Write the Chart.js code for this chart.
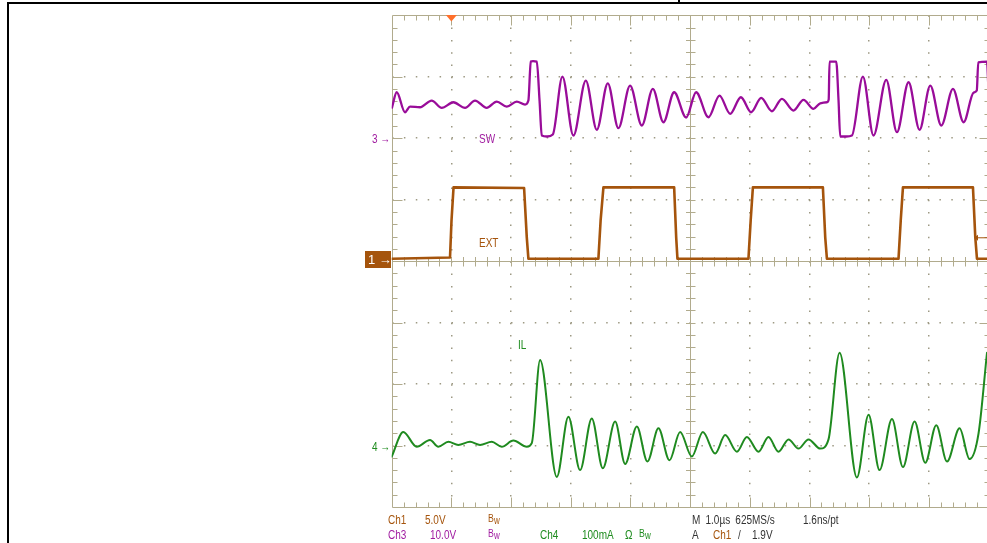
<!DOCTYPE html>
<html>
<head>
<meta charset="utf-8">
<title>SW / EXT / IL scope capture</title>
<script src="https://cdn.jsdelivr.net/npm/chart.js@4.4.1/dist/chart.umd.min.js"></script>
<style>
  html, body { margin: 0; padding: 0; background: #fff; overflow: hidden; }
  body { width: 987px; height: 543px; position: relative; font-family: "Liberation Sans", Arial, sans-serif; }
  .frame-top { position: absolute; left: 7px; top: 2px; width: 990px; height: 2px; background: #000; }
  .frame-left { position: absolute; left: 7px; top: 2px; width: 2px; height: 560px; background: #000; }
  .frame-cell { position: absolute; left: 678px; top: 0; width: 2px; height: 3px; background: #000; }
  #wrap { position: absolute; left: 0; top: 0; width: 1000px; height: 543px; }
  .lbl { position: absolute; font-size: 12.5px; line-height: 14px; white-space: nowrap; transform: scaleX(0.8); transform-origin: 0 50%; }
  .bw { font-size: 11px; }
  .bw sub { font-size: 10px; vertical-align: -2px; }
  .c1 { color: #a5540c; }
  .c3 { color: #a01ca0; }
  .c4 { color: #1f8c1f; }
  .cm { color: #333; }
  .marker1 { position: absolute; left: 365px; top: 251px; width: 26px; height: 17px; background: #a5540c; overflow: hidden; }
  .marker1 span { position: absolute; left: 3px; top: 1px; color: #fff; font-size: 13px; line-height: 15px; white-space: nowrap; }
</style>
</head>
<body>
<div class="frame-top"></div>
<div class="frame-left"></div>
<div class="frame-cell"></div>
<div id="wrap"><canvas id="scope" width="1000" height="543"></canvas></div>

<!-- channel ground markers -->
<div class="lbl c3" style="left:372px;top:132px">3 &#8594;</div>
<div class="marker1"><span>1 &#8594;</span></div>
<div class="lbl c4" style="left:372px;top:440px">4 &#8594;</div>

<!-- trace labels -->
<div class="lbl c3" style="left:479px;top:132px">SW</div>
<div class="lbl c1" style="left:479px;top:236px">EXT</div>
<div class="lbl c4" style="left:518px;top:338px">IL</div>

<!-- status bar -->
<div class="lbl c1" style="left:388px;top:513px">Ch1</div>
<div class="lbl c1" style="left:425px;top:513px">5.0V</div>
<div class="lbl c1 bw" style="left:488px;top:511px">B<sub>w</sub></div>
<div class="lbl cm" style="left:692px;top:513px;word-spacing:3px">M 1.0µs 625MS/s</div>
<div class="lbl cm" style="left:803px;top:513px">1.6ns/pt</div>

<div class="lbl c3" style="left:388px;top:528px">Ch3</div>
<div class="lbl c3" style="left:430px;top:528px">10.0V</div>
<div class="lbl c3 bw" style="left:488px;top:526px">B<sub>w</sub></div>
<div class="lbl c4" style="left:540px;top:528px">Ch4</div>
<div class="lbl c4" style="left:582px;top:528px">100mA</div>
<div class="lbl c4" style="left:625px;top:528px">Ω</div>
<div class="lbl c4 bw" style="left:639px;top:526px">B<sub>w</sub></div>
<div class="lbl cm" style="left:692px;top:528px">A</div>
<div class="lbl c1" style="left:713px;top:528px">Ch1</div>
<div class="lbl cm" style="left:738px;top:528px">/</div>
<div class="lbl cm" style="left:752px;top:528px">1.9V</div>

<script>
// ── SCOPE SETTINGS ──
const TIME_PER_DIV = 1.0;         // µs
const SW_PER_DIV = 10, SW_OFFSET = 2;     // Ch3, volts/div, ground in divisions
const EXT_PER_DIV = 5, EXT_OFFSET = 0;    // Ch1
const IL_PER_DIV = 100, IL_OFFSET = -3;   // Ch4, mA/div
const TRIG_TIME = 1.0;            // µs
const TRIG_LEVEL = 1.9;           // V on Ch1

// ── CH3: SW (volts) ──
const swTime = [0.005, 0.084, 0.223, 0.307, 0.474, 0.670, 0.838, 1.033, 1.229, 1.396, 1.592, 1.760, 1.928, 2.095, 2.234, 2.290,
  2.330, 2.368, 2.430, 2.477, 2.514, 2.603, 2.699, 2.860, 3.044, 3.252, 3.436, 3.620, 3.798, 3.994, 4.190, 4.375, 4.552, 4.732,
  4.933, 5.100, 5.307, 5.491, 5.670, 5.850, 6.022, 6.190, 6.369, 6.537, 6.731, 6.899, 7.066, 7.179, 7.291, 7.321,
  7.335, 7.447, 7.486, 7.514, 7.615, 7.710, 7.894, 8.072, 8.285, 8.464, 8.659, 8.843, 9.023, 9.207, 9.403, 9.581,
  9.749, 9.802, 9.827, 9.973, 9.995];
const swVolts = [4.99, 7.48, 4.23, 5.15, 5.04, 6.13, 4.94, 5.85, 4.94, 6.13, 4.94, 5.97, 5.15, 5.97, 5.48, 6.13,
  12.47, 12.55, 12.47, 6.13, 0.44, 0.28, 0.60, 10.03, 0.44, 9.38, 1.37, 8.94, 1.63, 8.57, 2.07, 8.03, 2.60, 7.48,
  3.37, 7.48, 3.41, 6.94, 3.97, 6.67, 4.23, 6.57, 4.39, 6.41, 4.50, 6.24, 4.78, 5.69, 5.85, 6.29,
  12.47, 12.47, 6.13, 0.28, 0.28, 0.44, 10.03, 0.44, 9.50, 0.98, 9.11, 1.37, 8.57, 2.07, 8.03, 2.60,
  7.43, 7.76, 12.36, 12.47, 8.57];

// ── CH1: EXT (volts) ──
const extTime = [0.005, 0.977, 1.002, 1.036, 2.218, 2.263, 2.290, 3.463, 3.500, 3.547, 4.732, 4.766, 4.787,
  5.977, 6.014, 6.051, 7.224, 7.263, 7.291, 8.491, 8.528, 8.565, 9.738, 9.777, 9.805, 9.995];
const extVolts = [0.20, 0.30, 3.31, 6.00, 5.95, 1.93, 0.20, 0.20, 3.31, 6.00, 6.00, 1.93, 0.20,
  0.20, 3.31, 6.00, 6.00, 1.93, 0.20, 0.20, 3.31, 6.00, 6.00, 1.93, 0.20, 0.20];

// ── CH4: IL (mA) ──
const ilTime = [0.000, 0.194, 0.419, 0.642, 0.781, 0.949, 1.116, 1.312, 1.480, 1.676, 1.844, 2.038, 2.263, 2.347,
  2.486, 2.766, 2.960, 3.156, 3.352, 3.537, 3.743, 3.911, 4.107, 4.284, 4.469, 4.653, 4.832, 5.028,
  5.213, 5.419, 5.587, 5.783, 5.950, 6.145, 6.312, 6.480, 6.648, 6.815, 6.983, 7.179, 7.318,
  7.503, 7.794, 7.989, 8.173, 8.381, 8.565, 8.760, 8.939, 9.123, 9.303, 9.514, 9.681, 9.832, 9.973];
const ilMilliamps = [-18, 22, -2, 9, -2, 6, 1, 6, 1, 6, -2, 8, -2, 4,
  139, -51, 47, -40, 44, -37, 39, -30, 31, -26, 28, -24, 22, -18,
  22, -13, 17, -10, 14, -10, 14, -10, 10, -5, 10, -5, 10,
  151, -52, 50, -40, 43, -35, 39, -28, 33, -26, 28, -22, 20, 151];

// ── COLOURS ──
const GRID_LINE = '#b1ab8d';
const GRID_DOT = '#9d9983';
const TRIG_COLOR = '#ff6f2a';

function toDivs(times, values, perDiv, offset) {
  return times.map((t, i) => ({ x: t / TIME_PER_DIV, y: values[i] / perDiv + offset }));
}

// graticule: outline, minor ticks, centre cross, trigger markers
const graticule = {
  id: 'graticule',
  beforeDatasetsDraw(chart) {
    const { ctx, chartArea: a, scales: { x, y } } = chart;
    const px = v => Math.round(x.getPixelForValue(v)) + 0.5;
    const py = v => Math.round(y.getPixelForValue(v)) + 0.5;
    const L = px(0), R = px(10), T = py(4), B = py(-4), cx = px(5), cy = py(0);
    ctx.save();
    ctx.strokeStyle = GRID_LINE;
    ctx.lineWidth = 1;
    ctx.beginPath();
    ctx.rect(L, T, R - L, B - T);
    ctx.moveTo(cx, T); ctx.lineTo(cx, B);
    ctx.moveTo(L, cy); ctx.lineTo(R, cy);
    for (let k = 1; k < 50; k++) {
      const v = k / 5, p = px(v), len = k % 5 === 0 ? 10 : 5;
      ctx.moveTo(p, T); ctx.lineTo(p, T + len);
      ctx.moveTo(p, B); ctx.lineTo(p, B - len);
      ctx.moveTo(p, cy - 4.5); ctx.lineTo(p, cy + 5);
    }
    for (let k = 1; k < 40; k++) {
      const v = -4 + k / 5, p = py(v), len = k % 5 === 0 ? 10 : 5;
      ctx.moveTo(L, p); ctx.lineTo(L + len, p);
      ctx.moveTo(R, p); ctx.lineTo(R - len, p);
      ctx.moveTo(cx - 4.5, p); ctx.lineTo(cx + 5, p);
    }
    ctx.stroke();

    // trigger position marker
    const tx = x.getPixelForValue(TRIG_TIME);
    ctx.fillStyle = TRIG_COLOR;
    ctx.beginPath();
    ctx.moveTo(tx - 5.5, T - 0.5); ctx.lineTo(tx + 5.5, T - 0.5); ctx.lineTo(tx, T + 6);
    ctx.closePath(); ctx.fill();

    // trigger level marker (Ch1), right edge
    const ty = y.getPixelForValue(TRIG_LEVEL / EXT_PER_DIV + EXT_OFFSET);
    ctx.fillStyle = '#a5540c';
    ctx.strokeStyle = '#a5540c';
    ctx.beginPath();
    ctx.moveTo(974, ty); ctx.lineTo(978, ty - 3); ctx.lineTo(978, ty + 3); ctx.closePath(); ctx.fill();
    ctx.beginPath(); ctx.moveTo(978, ty); ctx.lineTo(R, ty); ctx.stroke();
    ctx.restore();
  }
};

const hideEdge = (edgeVals) => (c) => (c.tick && edgeVals.includes(c.tick.value)) ? 'rgba(0,0,0,0)' : GRID_DOT;

new Chart(document.getElementById('scope'), {
  type: 'line',
  data: {
    datasets: [
      { label: 'EXT', data: toDivs(extTime, extVolts, EXT_PER_DIV, EXT_OFFSET), borderColor: '#a5540c', borderWidth: 2.6, tension: 0 },
      { label: 'SW', data: toDivs(swTime, swVolts, SW_PER_DIV, SW_OFFSET), borderColor: '#990c99', borderWidth: 2.3, cubicInterpolationMode: 'monotone' },
      { label: 'IL', data: toDivs(ilTime, ilMilliamps, IL_PER_DIV, IL_OFFSET), borderColor: '#1f8a1f', borderWidth: 2, cubicInterpolationMode: 'monotone' },
    ],
  },
  options: {
    responsive: false,
    animation: false,
    devicePixelRatio: 1,
    layout: { padding: { left: 391.7, right: 11.4, top: 15.3, bottom: 36 } },
    elements: { point: { radius: 0 }, line: { borderJoinStyle: 'round', borderCapStyle: 'round' } },
    plugins: { legend: { display: false }, tooltip: { enabled: false } },
    scales: {
      x: {
        type: 'linear', min: 0, max: 10,
        ticks: { display: false, stepSize: 1 },
        grid: { drawTicks: false, color: hideEdge([0, 5, 10]), lineWidth: 1.5 },
        border: { display: false, dash: [1.5, 10.8] },
      },
      y: {
        type: 'linear', min: -4, max: 4,
        ticks: { display: false, stepSize: 1 },
        grid: { drawTicks: false, color: hideEdge([-4, 0, 4]), lineWidth: 1.5 },
        border: { display: false, dash: [1.5, 10.4] },
      },
    },
  },
  plugins: [graticule],
});
</script>
</body>
</html>
